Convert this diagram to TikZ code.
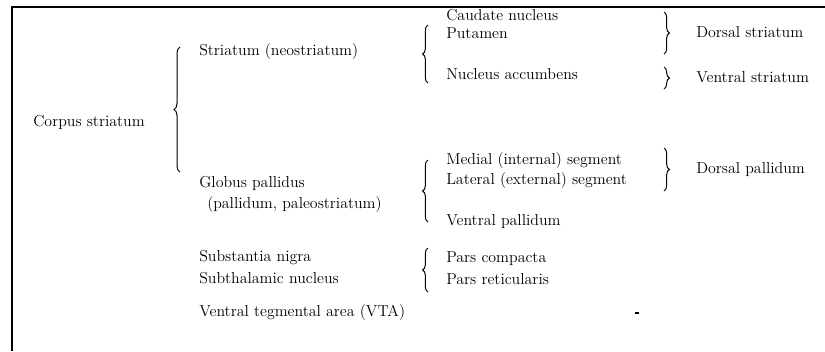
\documentclass[tikz,border=0pt]{standalone}
\usetikzlibrary{decorations.pathreplacing}
\begin{document}
\begin{tikzpicture}[x=0.75pt,y=-0.75pt,
  lbl/.style={anchor=west,inner sep=0pt,text height=1.5ex,text depth=.3ex,
    font=\fontsize{11.9}{14}\selectfont},
  frame/.style={line width=2.2pt},
  brc/.style={decorate,line width=0.75pt,decoration={brace,amplitude=#1}},
  brc/.default=4pt]
\useasboundingbox (0,0) rectangle (825,351);

% outer frame: left and top rules only
\draw[frame] (12,351) -- (12,7) -- (825,7);

% first column
\node[lbl] (corpus) at (33,123) {Corpus striatum};

% second column
\node[lbl] (striatum) at (199,52) {Striatum (neostriatum)};
\node[lbl] (globus) at (199,184) {Globus pallidus};
\node[lbl] (globus2) at (207,205) {(pallidum, paleostriatum)};
\node[lbl] (nigra) at (199,258) {Substantia nigra};
\node[lbl] (stn) at (199,280) {Subthalamic nucleus};
\node[lbl] (vta) at (199,313) {Ventral tegmental area (VTA)};

% third column
\node[lbl] (caudate) at (446,17) {Caudate nucleus};
\node[lbl] (putamen) at (446,35) {Putamen};
\node[lbl] (accumbens) at (446,76) {Nucleus accumbens};
\node[lbl] (medial) at (446,161) {Medial (internal) segment};
\node[lbl] (lateral) at (446,181) {Lateral (external) segment};
\node[lbl] (vpall) at (446,222) {Ventral pallidum};
\node[lbl] (compacta) at (446,259) {Pars compacta};
\node[lbl] (reticularis) at (446,281) {Pars reticularis};

% fourth column
\node[lbl] (dstr) at (696,34) {Dorsal striatum};
\node[lbl] (vstr) at (696,79) {Ventral striatum};
\node[lbl] (dpall) at (696,170) {Dorsal pallidum};

% brace end points
\coordinate (b1t) at (180,47);  \coordinate (b1b) at (180,172);
\coordinate (b2t) at (428,25);  \coordinate (b2b) at (428,83);
\coordinate (b3t) at (428,160); \coordinate (b3b) at (428,222);
\coordinate (b4t) at (428,248); \coordinate (b4b) at (428,292);
\coordinate (b5t) at (664,12);  \coordinate (b5b) at (664,54);
\coordinate (b6t) at (664,67);  \coordinate (b6b) at (664,89);
\coordinate (b7t) at (664,148); \coordinate (b7b) at (664,191);

% opening braces
\draw[brc=4.5pt] (b1b) -- (b1t);
\draw[brc] (b2b) -- (b2t);
\draw[brc] (b3b) -- (b3t);
\draw[brc] (b4b) -- (b4t);
% closing braces
\draw[brc] (b5t) -- (b5b);
\draw[brc] (b6t) -- (b6b);
\draw[brc] (b7t) -- (b7b);

% small stray mark
\fill (635,312) rectangle (639,314);
\end{tikzpicture}
\end{document}
